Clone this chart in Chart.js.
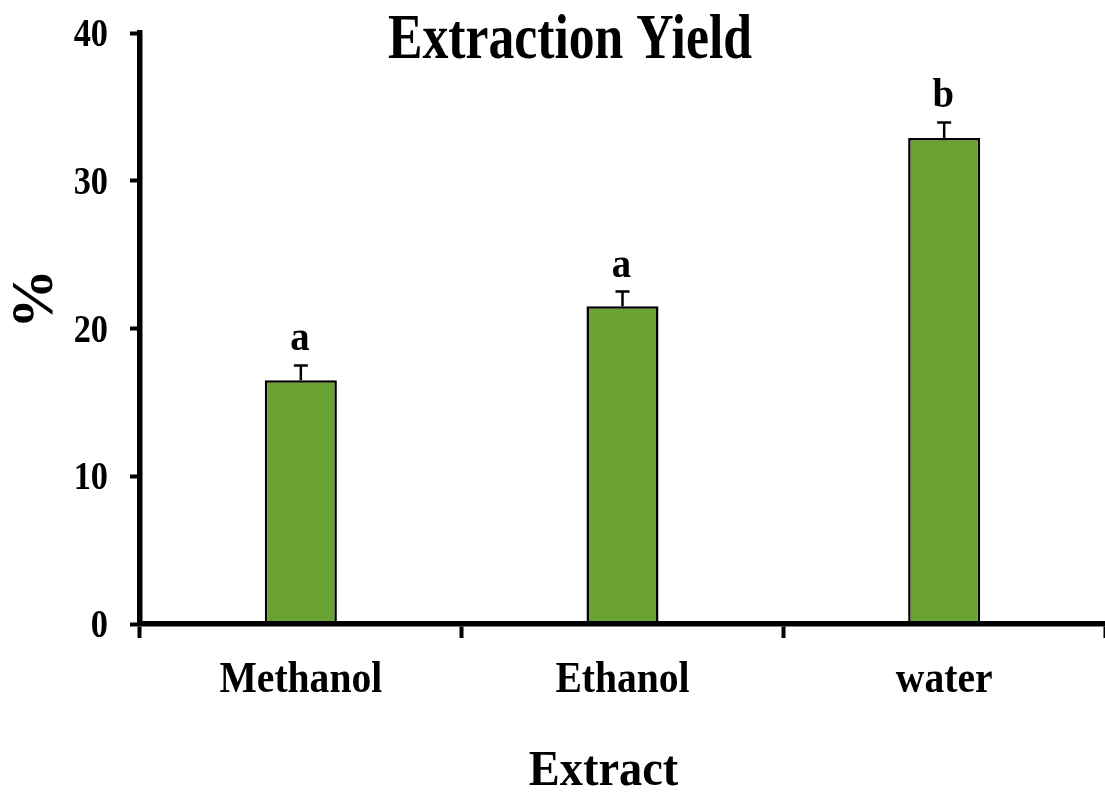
<!DOCTYPE html>
<html>
<head>
<meta charset="utf-8">
<script src="https://cdn.jsdelivr.net/npm/chart.js@4.4.1/dist/chart.umd.min.js"></script>
<style>
  html, body { margin: 0; padding: 0; background: #fff; }
  #wrap { width: 1105px; height: 792px; }
</style>
</head>
<body>
<div id="wrap"><canvas id="c" width="1105" height="792"></canvas></div>
<script>
// Extraction yield (%) per solvent, with standard error and significance groups
const categories = ['Methanol', 'Ethanol', 'water'];
const yieldPct = [16.5, 21.5, 32.9];
const yieldErr = [1.0, 1.0, 1.05];
const groupLetters = ['a', 'a', 'b'];
const yTickValues = [0, 10, 20, 30, 40];
const yTickLabels = ['0', '10', '20', '30', '40'];

const FONT = '"Liberation Serif", "Times New Roman", serif';

function drawText(ctx, str, x, y, size, sx, align, rot) {
  ctx.save();
  ctx.translate(x, y);
  if (rot) ctx.rotate(rot);
  ctx.scale(sx, 1);
  ctx.font = 'bold ' + size + 'px ' + FONT;
  ctx.textAlign = align;
  ctx.textBaseline = 'alphabetic';
  ctx.fillStyle = '#000';
  ctx.fillText(str, 0, 0);
  ctx.restore();
}

// Error bars, group letters and all chart text
const annotate = {
  id: 'annotate',
  afterDatasetsDraw(chart) {
    const ctx = chart.ctx;
    const y = chart.scales.y;
    const meta = chart.getDatasetMeta(0);
    ctx.save();
    ctx.strokeStyle = '#000';
    ctx.lineWidth = 2.5;
    meta.data.forEach((bar, i) => {
      const yTop = y.getPixelForValue(yieldPct[i]);
      const yCap = y.getPixelForValue(yieldPct[i] + yieldErr[i]);
      ctx.beginPath();
      ctx.moveTo(bar.x, yTop);
      ctx.lineTo(bar.x, yCap);
      ctx.moveTo(bar.x - 7, yCap);
      ctx.lineTo(bar.x + 7, yCap);
      ctx.stroke();
      drawText(ctx, groupLetters[i], bar.x - 1, yCap - 15, 43, 0.9, 'center');
      drawText(ctx, categories[i], bar.x, 692, 45, 0.88, 'center');
    });
    ctx.restore();
  },
  afterDraw(chart) {
    const ctx = chart.ctx;
    const y = chart.scales.y;
    yTickValues.forEach((v, i) => {
      drawText(ctx, yTickLabels[i], 108, y.getPixelForValue(v) + 13, 39, 0.88, 'right');
    });
    drawText(ctx, 'Extraction Yield', 570, 58, 63, 0.82, 'center');
    drawText(ctx, 'Extract', 603.5, 785, 51, 0.91, 'center');
    drawText(ctx, '%', 52, 299, 60, 1, 'center', -Math.PI / 2);
  }
};

new Chart(document.getElementById('c'), {
  type: 'bar',
  data: {
    labels: categories,
    datasets: [{
      data: yieldPct,
      backgroundColor: '#6aa232',
      borderColor: '#000',
      borderWidth: 2.5,
      borderSkipped: false,
      categoryPercentage: 1,
      barPercentage: 0.224
    }]
  },
  options: {
    responsive: false,
    devicePixelRatio: 1,
    animation: false,
    layout: { padding: { top: 33, right: 0, left: 0, bottom: 0 } },
    plugins: { legend: { display: false }, tooltip: { enabled: false }, title: { display: false } },
    scales: {
      x: {
        type: 'category',
        offset: true,
        grid: {
          display: true, offset: true, drawOnChartArea: false, drawTicks: true,
          tickLength: 14, tickWidth: 4, tickColor: '#000'
        },
        border: { display: true, color: '#000', width: 5.5 },
        ticks: { display: false },
        afterFit(s) { s.height = 168; }
      },
      y: {
        min: 0, max: 40,
        grid: {
          display: true, drawOnChartArea: false, drawTicks: true,
          tickLength: 10, tickWidth: 4, tickColor: '#000'
        },
        border: { display: true, color: '#000', width: 5.5 },
        ticks: { display: false, stepSize: 10 },
        afterFit(s) { s.width = 140; }
      }
    }
  },
  plugins: [annotate]
});
</script>
</body>
</html>
